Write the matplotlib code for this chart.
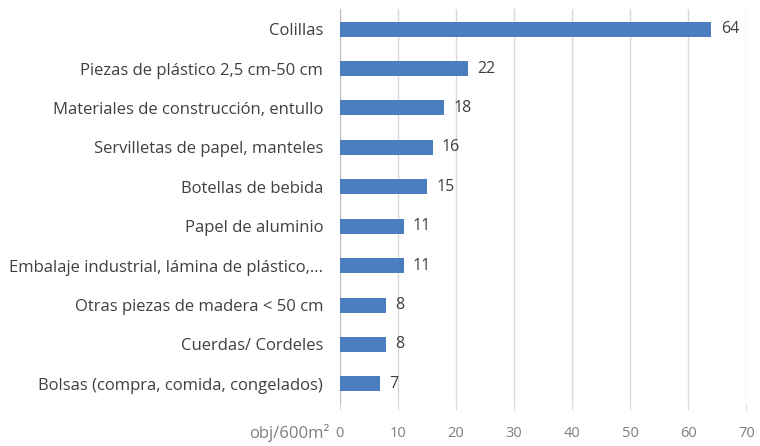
import matplotlib.pyplot as plt

categories = ['Colillas', 'Piezas de plástico 2,5 cm-50 cm', 'Materiales de construcción, entullo',
              'Servilletas de papel, manteles', 'Botellas de bebida', 'Papel de aluminio',
              'Embalaje industrial, lámina de plástico,...', 'Otras piezas de madera < 50 cm',
              'Cuerdas/ Cordeles', 'Bolsas (compra, comida, congelados)']
values = [64, 22, 18, 16, 15, 11, 11, 8, 8, 7]
xticks = [0, 10, 20, 30, 40, 50, 60, 70]

plt.rcParams['font.family'] = ['Open Sans', 'DejaVu Sans']

fig = plt.figure(figsize=(7.6, 4.46), dpi=100)
ax = fig.add_axes([0.447, 0.095, 0.535, 0.884])

pos = list(range(len(categories)))
ax.barh(pos, values, height=0.38, color='#4a7ebf', zorder=3)
for p, v in zip(pos, values):
    ax.text(v + 1.6, p, str(v), va='center', ha='left', fontsize=11.5, color='#404040')

ax.set_ylim(len(categories) - 0.5, -0.5)
ax.set_yticks(pos)
ax.set_yticklabels(categories, fontsize=12, color='#404040')
ax.set_xlim(0, 70)
ax.set_xticks(xticks)
ax.set_xticklabels([str(t) for t in xticks], fontsize=10.5, color='#7f7f7f')
ax.grid(axis='x', color='#d9d9d9', linewidth=1, zorder=0)

for s in ['top', 'right', 'bottom']:
    ax.spines[s].set_visible(False)
ax.spines['left'].set_color('#bfbfbf')
ax.tick_params(axis='y', length=0, pad=12)
ax.tick_params(axis='x', length=4, color='#d9d9d9', pad=12)

fig.text(330 / 760, 1 - 433 / 446, 'obj/600m²', fontsize=12, color='#7f7f7f', ha='right', va='center')

fig.savefig('out.png', dpi=100, facecolor='white')
